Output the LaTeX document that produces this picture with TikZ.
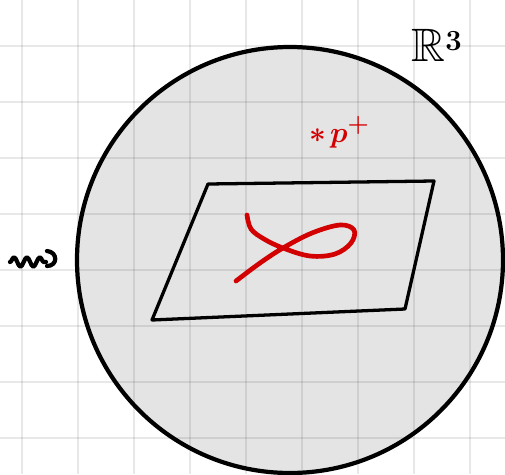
\documentclass[tikz,border=0pt]{standalone}
\usepackage{xcolor}
\usepackage{tikz}
\usepackage{amssymb}
\usetikzlibrary{calc, decorations.pathmorphing}
\definecolor{sketchred}{RGB}{210, 0, 0}
\definecolor{ballfill}{RGB}{228, 228, 228}
\definecolor{gridgray}{RGB}{222, 222, 222}

\tikzset{
    gridline/.style={black, opacity=0.09, line width=1.5pt},
    inkline/.style={black, line width=2.8pt, line cap=round, line join=round},
    redink/.style={sketchred, line width=4pt, line cap=round, line join=round}
}

\begin{document}
\begin{tikzpicture}[x=0.03cm, y=-0.03cm]
            \useasboundingbox (0,0) rectangle (505,474);
            \fill[white] (0,0) rectangle (505,474);
            % ball
            \fill[ballfill] (290,260) circle (213);
            % grid paper
            \foreach \gx in {22,78,...,470} {
                \draw[gridline] (\gx,0) -- (\gx,474);
            }
            \foreach \gy in {46,102,...,438} {
                \draw[gridline] (0,\gy) -- (505,\gy);
            }
            \draw[black, line width=3.6pt] (290,260) circle (213);
            % plane
            \draw[inkline] (208,184) -- (434,181) -- (405,309) -- (152,320) -- cycle;
            % knot
            \draw[redink] plot[smooth, tension=0.6] coordinates {
                (247,215) (251,229) (264,239) (283,248) (310,256) (335,254)
                (351,243) (354,230) (340,225) (312,233) (283,248) (260,263) (236,281)};
            % labels
            \node[sketchred, font=\fontsize{30}{32}\selectfont\boldmath] (star) at (318,136) {$\ast$};
            \node[sketchred, font=\fontsize{28}{30}\selectfont\boldmath, anchor=west] (pt) at (326,132) {$p^{+}$};
            \node[font=\fontsize{40}{44}\selectfont\boldmath] (space) at (437,45) {$\mathbb{R}^3$};
            % squiggle arrow
            \draw[inkline, line width=3.6pt, decorate, decoration={snake, amplitude=4, segment length=11}]
                (10,262) -- (46,262);
            \draw[inkline, line width=3.6pt] (47,251) .. controls (58,252) and (58,266) .. (47,266);
        \end{tikzpicture}
\end{document}
